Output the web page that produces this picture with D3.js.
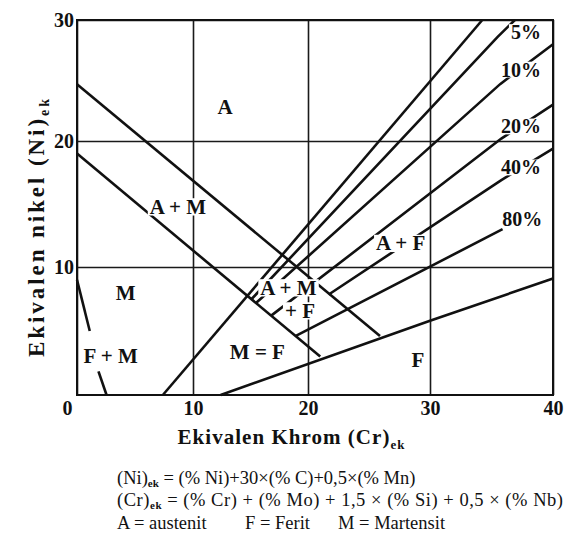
<!DOCTYPE html>
<html>
<head>
<meta charset="utf-8">
<script src="https://cdn.jsdelivr.net/npm/d3@7/dist/d3.min.js"></script>
<style>
  body { margin: 0; background: #fff; }
  svg { display: block; }
  text { font-family: "Liberation Serif", "DejaVu Serif", serif; fill: #111; }
</style>
</head>
<body>
<div id="diagram"></div>
<script>
// nilai sumbu
const xTicks = [0, 10, 20, 30, 40]
const yTicks = [10, 20, 30]

// garis batas fase, titik [Cr_ek, Ni_ek]
const batasA = [[0, 24.7], [25.9, 4.6]]
const batasM = [[0, 19.0], [21.0, 3.0]]
const batasFM1 = [[0, 9.0], [1.1, 5.0]]
const batasFM2 = [[1.85, 1.85], [2.55, 0]]

// garis persen ferit
const ferit0 = [[7.4, 0], [34.25, 30]]
const ferit5 = [[15.1, 7.5], [35.5, 28.6], [36.9, 30]]
const ferit10 = [[15.5, 7.2], [35.7, 24.7], [40, 28.0]]
const ferit20 = [[16.8, 6.2], [35.8, 20.2], [40, 23.0]]
const ferit40 = [[21.7, 7.85], [35.8, 16.9], [40, 19.4]]
const ferit80 = [[18.9, 4.6], [35.9, 13.0]]
const ferit100 = [[12.4, 0], [30, 5.8], [40, 9.1]]

// label daerah
const labelTeks = ["A", "A + M", "M", "F + M", "M = F", "A + M", "+ F", "A + F", "F"]
const labelCr = [12.8, 8.7, 4.2, 2.9, 15.6, 18.3, 19.3, 27.6, 29.0]
const labelNi = [22.8, 14.8, 8.0, 3.1, 3.4, 8.4, 6.6, 11.9, 2.8]

// label persen
const persenTeks = ["5%", "10%", "20%", "40%", "80%"]
const persenCr = [37.8, 37.4, 37.4, 37.4, 37.5]
const persenNi = [29.0, 25.9, 21.2, 17.9, 13.8]

const diagram = d3.select("#diagram")
const margin = {top: 20, right: 13, bottom: 156, left: 77}
const anchoTotal = 566
const altoTotal = 551
const width = anchoTotal - margin.left - margin.right
const height = altoTotal - margin.top - margin.bottom

const svg = diagram.append("svg")
  .attr("width", anchoTotal)
  .attr("height", altoTotal)

svg.append("rect").attr("width", anchoTotal).attr("height", altoTotal).attr("fill", "#fff")

const g = svg.append("g").attr("transform", `translate(${margin.left}, ${margin.top})`)

// skala (sedikit tidak seragam seperti cetakan aslinya)
const x = d3.scaleLinear().domain(xTicks).range([0, 116, 231, 353, width])
const y = d3.scaleLinear().domain([0, 10, 20, 30]).range([height, 247, 121, 0])

// grid + label sumbu
const xAxis = g.append("g")
  .attr("transform", `translate(0, ${height})`)
  .call(d3.axisBottom(x).tickValues(xTicks).tickSize(-height).tickSizeOuter(0).tickPadding(6))
const yAxis = g.append("g")
  .call(d3.axisLeft(y).tickValues(yTicks).tickSize(-width).tickSizeOuter(0).tickPadding(3))

for (const ax of [xAxis, yAxis]) {
  ax.select(".domain").remove()
  ax.selectAll(".tick line").attr("stroke", "#1a1a1a").attr("stroke-width", 1.6)
  ax.selectAll(".tick text")
    .attr("font-family", "Liberation Serif, serif")
    .attr("font-size", 20)
    .attr("font-weight", "bold")
    .attr("fill", "#111")
}
xAxis.selectAll(".tick text").filter(d => d === 0).attr("dx", -10)

// bingkai
g.append("rect")
  .attr("width", width).attr("height", height)
  .attr("fill", "none").attr("stroke", "#111").attr("stroke-width", 2)

const garis = d3.line().x(d => x(d[0])).y(d => y(d[1]))

const semuaGaris = [batasA, batasM, batasFM1, batasFM2,
  ferit0, ferit5, ferit10, ferit20, ferit40, ferit80, ferit100]

g.selectAll("path.batas")
  .data(semuaGaris)
  .join("path")
  .attr("class", "batas")
  .attr("d", garis)
  .attr("fill", "none")
  .attr("stroke", "#111")
  .attr("stroke-width", 2.6)

// label dengan latar putih
function tulis(teks, cr, ni, size) {
  const lg = g.append("g").attr("transform", `translate(${x(cr)}, ${y(ni)})`)
  const bg = lg.append("rect").attr("fill", "#fff")
  const t = lg.append("text")
    .attr("text-anchor", "middle")
    .attr("dy", "0.35em")
    .attr("font-size", size)
    .attr("font-weight", "bold")
    .text(teks)
  const b = t.node().getBBox()
  bg.attr("x", b.x - 2).attr("y", b.y + b.height * 0.14)
    .attr("width", b.width + 4).attr("height", b.height * 0.72)
}

labelTeks.forEach((d, i) => tulis(d, labelCr[i], labelNi[i], 21))
persenTeks.forEach((d, i) => tulis(d, persenCr[i], persenNi[i], 20))

// judul sumbu
const judulX = svg.append("text")
  .attr("x", 291).attr("y", 444)
  .attr("text-anchor", "middle")
  .attr("font-size", 21)
  .attr("font-weight", "bold")
  .attr("textLength", 227)
judulX.append("tspan").text("Ekivalen Khrom (Cr)")
judulX.append("tspan").attr("font-size", 13).attr("dy", 5).text("ek")

const judulY = svg.append("text")
  .attr("transform", "translate(44, 228) rotate(-90)")
  .attr("text-anchor", "middle")
  .attr("font-size", 23)
  .attr("font-weight", "bold")
  .attr("textLength", 258)
judulY.append("tspan").text("Ekivalen nikel (Ni)")
judulY.append("tspan").attr("font-size", 14).attr("dy", 5).text("ek")

// rumus
function rumus(pre, post, px, py, len) {
  const t = svg.append("text").attr("x", px).attr("y", py).attr("font-size", 18.5)
  if (len) t.attr("textLength", len)
  t.append("tspan").text(pre)
  if (post !== null) {
    t.append("tspan").attr("font-size", 11).attr("font-weight", "bold").attr("dy", 3).text("ek")
    t.append("tspan").attr("dy", -3).text(post)
  }
}
rumus("(Ni)", " = (% Ni)+30×(% C)+0,5×(% Mn)", 117, 484)
rumus("(Cr)", " = (% Cr) + (% Mo) + 1,5 × (% Si) + 0,5 × (% Nb)", 117, 506, 446)
rumus("A = austenit", null, 117, 529)
rumus("F = Ferit", null, 245, 529)
rumus("M = Martensit", null, 338, 529)
</script>
</body>
</html>
